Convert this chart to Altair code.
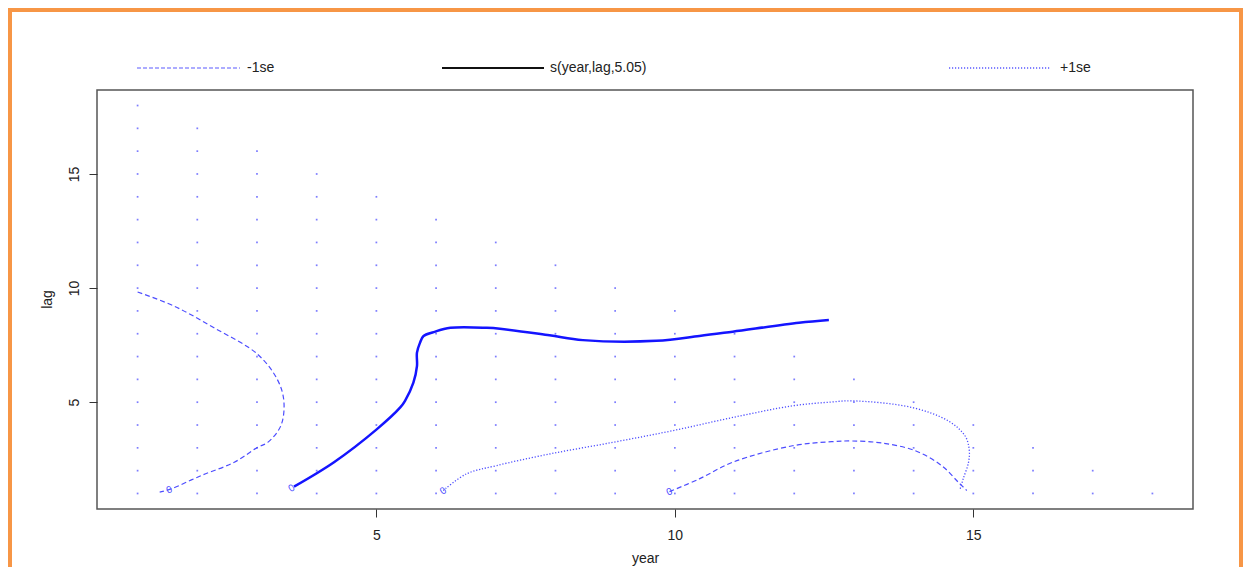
import altair as alt
import pandas as pd

# ---- data ----
grid_years = list(range(1, 19))
grid_max_lag = [18, 17, 16, 15, 14, 13, 12, 11, 10, 9, 8, 7, 6, 5, 4, 3, 2, 1]

# -1se contour (left, dashed)
m1a_year = [1.0, 1.62, 2.28, 3.01, 3.34, 3.45, 3.40, 3.18, 3.01, 2.62, 2.06, 1.56, 1.37]
m1a_lag = [9.83, 9.2, 8.26, 7.1, 6.0, 5.06, 3.97, 3.24, 3.02, 2.37, 1.78, 1.2, 1.06]

# fitted contour (solid)
fit_year = [3.62, 4.29, 5.01, 5.40, 5.48, 5.62, 5.68, 5.68, 5.73, 5.79, 5.96, 6.24, 6.85,
            7.07, 7.90, 8.46, 9.69, 10.41, 10.97, 12.08, 12.58]
fit_lag = [1.3, 2.37, 3.82, 4.77, 5.06, 5.86, 6.58, 7.17, 7.6, 7.9, 8.07, 8.26, 8.26,
           8.22, 7.93, 7.72, 7.69, 7.9, 8.09, 8.48, 8.6]

# +1se contour (dotted)
p1_year = [6.12, 6.51, 7.01, 7.90, 8.96, 9.96, 10.97, 11.97, 12.63, 12.97, 13.97, 14.58,
           14.86, 14.93, 14.92, 14.83, 14.78]
p1_lag = [1.13, 1.86, 2.22, 2.73, 3.24, 3.75, 4.33, 4.84, 5.01, 5.06, 4.77, 4.18,
          3.53, 2.95, 2.37, 1.64, 1.20]

# -1se contour (lower right, dashed)
m1b_year = [9.91, 10.41, 10.97, 11.97, 12.63, 12.97, 13.47, 14.03, 14.47, 14.75, 14.89]
m1b_lag = [1.08, 1.64, 2.37, 3.09, 3.27, 3.30, 3.21, 2.87, 2.22, 1.49, 1.13]

# contour labels
lab_year = [1.53, 3.58, 6.12, 9.91]
lab_lag = [1.16, 1.23, 1.11, 1.07]
lab_text = ["0", "0", "0", "0"]
lab_angle = [339, 329, 324, 337]

legend_labels = ["-1se", "s(year,lag,5.05)", "+1se"]
x_ticks = [5, 10, 15]
y_ticks = [5, 10, 15]

# ---- build tables ----
grid_rows = []
for yr, mx in zip(grid_years, grid_max_lag):
    for lg in range(1, mx + 1):
        grid_rows.append({"year": yr, "lag": lg})
grid_df = pd.DataFrame(grid_rows)

def curve_df(xs, ys):
    return pd.DataFrame({"year": xs, "lag": ys, "i": list(range(len(xs)))})

lab_df = pd.DataFrame({"year": lab_year, "lag": lab_lag, "t": lab_text, "a": lab_angle})

DOM = [0.32, 18.68]
FONT = "Liberation Sans"
xs = alt.Scale(domain=DOM, nice=False, zero=False)
ys = alt.Scale(domain=DOM, nice=False, zero=False)

x_axis = alt.Axis(values=x_ticks, format="d", domain=False, grid=False, tickSize=8,
                  tickColor="#333333",
                  labelFont=FONT, labelFontSize=14, labelColor="#222222", labelPadding=11,
                  title="year", titleFont=FONT, titleFontSize=14, titleFontWeight="normal",
                  titleColor="#222222", titleX=548, titleY=49, titleAlign="center",
                  titleBaseline="middle")
y_axis = alt.Axis(values=y_ticks, format="d", domain=False, grid=False, tickSize=8,
                  tickColor="#333333",
                  labelFont=FONT, labelFontSize=14, labelColor="#222222", labelAngle=270,
                  labelAlign="center", labelBaseline="bottom", labelPadding=8,
                  title="lag", titleFont=FONT, titleFontSize=14, titleFontWeight="normal",
                  titleColor="#222222", titleX=-50, titleY=209, titleAngle=270,
                  titleAlign="center", titleBaseline="middle")

X = alt.X("year:Q", scale=xs, axis=x_axis)
Y = alt.Y("lag:Q", scale=ys, axis=y_axis)
Xn = alt.X("year:Q", scale=xs)
Yn = alt.Y("lag:Q", scale=ys)

dots = alt.Chart(grid_df).mark_square(size=3, color="#6f6fff", opacity=0.9).encode(x=X, y=Y)

def line_layer(xs_, ys_, **kw):
    return alt.Chart(curve_df(xs_, ys_)).mark_line(interpolate="catmull-rom", **kw).encode(
        x=Xn, y=Yn, order="i:Q")

l_m1a = line_layer(m1a_year, m1a_lag, color="#4d4dff", strokeWidth=1.2, strokeDash=[5, 3])
l_fit = line_layer(fit_year, fit_lag, color="#1414ff", strokeWidth=2.5)
l_p1 = line_layer(p1_year, p1_lag, color="#4d4dff", strokeWidth=1.3, strokeDash=[1.2, 1.8])
l_m1b = line_layer(m1b_year, m1b_lag, color="#4d4dff", strokeWidth=1.2, strokeDash=[5, 3])

labels = alt.Chart(lab_df).mark_text(font=FONT, fontSize=10, color="#5050ff").encode(
    x=Xn, y=Yn, text="t:N", angle=alt.Angle("a:Q", scale=None))

one = pd.DataFrame({"a": [0]})
LEG_Y = -22
leg1 = alt.Chart(one).mark_rule(color="#5a5aff", strokeWidth=1.2, strokeDash=[4, 2]).encode(
    x=alt.value(40), x2=alt.value(143), y=alt.value(LEG_Y))
leg2 = alt.Chart(one).mark_rule(color="#111111", strokeWidth=2).encode(
    x=alt.value(345), x2=alt.value(447), y=alt.value(LEG_Y))
leg3 = alt.Chart(one).mark_rule(color="#5a5aff", strokeWidth=1.3, strokeDash=[1.2, 1.8]).encode(
    x=alt.value(852), x2=alt.value(954), y=alt.value(LEG_Y))
leg_t1 = alt.Chart(one).mark_text(font=FONT, fontSize=14, color="#222222", align="left",
                                  baseline="middle").encode(
    x=alt.value(150), y=alt.value(LEG_Y), text=alt.value(legend_labels[0]))
leg_t2 = alt.Chart(one).mark_text(font=FONT, fontSize=14, color="#222222", align="left",
                                  baseline="middle").encode(
    x=alt.value(453), y=alt.value(LEG_Y), text=alt.value(legend_labels[1]))
leg_t3 = alt.Chart(one).mark_text(font=FONT, fontSize=14, color="#222222", align="left",
                                  baseline="middle").encode(
    x=alt.value(963), y=alt.value(LEG_Y), text=alt.value(legend_labels[2]))

border = alt.Chart(one).mark_rect(filled=False, stroke="#F79646", strokeWidth=4).encode(
    x=alt.value(-87), x2=alt.value(1144), y=alt.value(-80), y2=alt.value(700))

chart = alt.layer(
    dots, l_m1a, l_fit, l_p1, l_m1b, labels,
    leg1, leg2, leg3, leg_t1, leg_t2, leg_t3, border
).properties(
    width=1096, height=419,
    autosize=alt.AutoSizeParams(type="none"),
    padding={"left": 89, "top": 82, "right": 50, "bottom": 58},
    background="white",
).configure_view(stroke="#555555", strokeWidth=1.5)

chart.save("out.html", embed_options={"renderer": "svg", "actions": False})
